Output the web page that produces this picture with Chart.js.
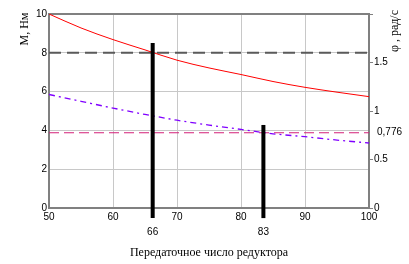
<!DOCTYPE html>
<html><head><meta charset="utf-8">
<script src="https://cdn.jsdelivr.net/npm/chart.js@4/dist/chart.umd.min.js"></script>
<style>html,body{margin:0;padding:0;background:#fff;}canvas{display:block;}</style>
</head><body>
<canvas id="c" width="409" height="264"></canvas>
<script>
// Gear ratio values (x)
const gearRatio = [50, 55, 60, 65, 70, 75, 80, 85, 90, 95, 100];
// Torque M, N·m (left axis)
const torqueM = [10.0, 9.28, 8.68, 8.15, 7.62, 7.22, 6.88, 6.52, 6.22, 5.97, 5.74];
// Angular speed φ, rad/s (right axis)
const speedPhi = [1.17, 1.10, 1.03, 0.965, 0.905, 0.855, 0.81, 0.765, 0.735, 0.70, 0.67];
// Reference levels
const torqueRef = 8;
const speedRef = 0.776;
const speedRefLabel = '0,776';
// Vertical markers
const markerX = [66.2, 83.5];
const markerTop = [8.5, 4.28];
const markerBottom = -0.52;
const markerLabels = ['66', '83'];
// Ticks / titles
const xTicks = [50, 60, 70, 80, 90, 100];
const xTitle = 'Передаточное число редуктора';
const yTitle = 'M, Нм';
const y1Title = 'φ , рад/с';

const pts = (xs, ys) => xs.map((x, i) => ({x, y: ys[i]}));

const datasets = [];
markerX.forEach((mx, i) => {
  datasets.push({
    data: [{x: mx, y: markerBottom}, {x: mx, y: markerTop[i]}],
    yAxisID: 'y', borderColor: '#000', borderWidth: 4, pointRadius: 0, clip: false, order: 0
  });
});
datasets.push({
  data: pts(gearRatio, torqueM), yAxisID: 'y', borderColor: '#ff0000', borderWidth: 1,
  pointRadius: 0, cubicInterpolationMode: 'monotone', order: 1
});
datasets.push({
  data: pts(gearRatio, speedPhi), yAxisID: 'y1', borderColor: '#8000ff', borderWidth: 1.3,
  borderDash: [6, 4, 2, 4], pointRadius: 0, cubicInterpolationMode: 'monotone', order: 2
});
datasets.push({
  data: [{x: 50, y: torqueRef}, {x: 100, y: torqueRef}], yAxisID: 'y', borderColor: '#5a5a5a',
  borderWidth: 2, borderDash: [12, 6], pointRadius: 0, order: 3
});
datasets.push({
  data: [{x: 50, y: speedRef}, {x: 100, y: speedRef}], yAxisID: 'y1', borderColor: '#d4207a',
  borderWidth: 1.2, borderDash: [10, 5], pointRadius: 0, order: 4
});

const tickFont = {family: "'Liberation Sans', Arial, sans-serif", size: 10};

const textPlugin = {
  id: 'texts',
  afterDraw(chart) {
    const ctx = chart.ctx;
    const xs = chart.scales.x, y1 = chart.scales.y1;
    ctx.save();
    ctx.fillStyle = '#000';
    ctx.font = "12px 'Liberation Serif', 'Times New Roman', serif";
    ctx.textAlign = 'center';
    ctx.textBaseline = 'middle';
    ctx.fillText(xTitle, 209, 253);
    ctx.save(); ctx.translate(25, 29); ctx.rotate(-Math.PI / 2); ctx.fillText(yTitle, 0, 0); ctx.restore();
    ctx.save(); ctx.translate(395, 31); ctx.rotate(-Math.PI / 2); ctx.fillText(y1Title, 0, 0); ctx.restore();
    ctx.font = "10px 'Liberation Sans', Arial, sans-serif";
    markerX.forEach((mx, i) => {
      ctx.fillText(markerLabels[i], xs.getPixelForValue(mx), 232);
    });
    ctx.textAlign = 'left';
    ctx.fillText(speedRefLabel, 377, y1.getPixelForValue(speedRef));
    ctx.restore();
  }
};

new Chart(document.getElementById('c'), {
  type: 'line',
  data: {datasets},
  options: {
    responsive: false, animation: false, devicePixelRatio: 1, locale: 'en-US',
    layout: {padding: {top: 14, left: 0, right: 0, bottom: 0}},
    plugins: {legend: {display: false}, tooltip: {enabled: false}},
    scales: {
      x: {
        type: 'linear', min: 50, max: 100,
        afterBuildTicks: s => { s.ticks = xTicks.map(v => ({value: v})); },
        ticks: {font: tickFont, color: '#000', padding: 3, maxRotation: 0},
        grid: {drawTicks: false, color: c => (c.tick && (c.tick.value === 50 || c.tick.value === 100)) ? 'rgba(0,0,0,0)' : '#c8c8c8'},
        border: {color: '#808080', width: 2},
        afterFit: s => { s.height = 56; }
      },
      y: {
        position: 'left', min: 0, max: 10,
        ticks: {stepSize: 2, font: tickFont, color: '#000', padding: 2},
        grid: {drawTicks: false,
          color: c => c.tick.value === 10 ? '#808080' : (c.tick.value === 0 ? 'rgba(0,0,0,0)' : '#c8c8c8'),
          lineWidth: c => c.tick.value === 10 ? 2 : 1},
        border: {color: '#808080', width: 2},
        afterFit: s => { s.width = 49; }
      },
      y1: {
        position: 'right', min: 0, max: 2,
        ticks: {stepSize: 0.5, font: tickFont, color: '#000', padding: 1,
          callback: v => v === 2 ? '' : String(v)},
        grid: {drawOnChartArea: false, drawTicks: true, tickLength: 4, color: '#808080'},
        border: {color: '#808080', width: 2},
        afterFit: s => { s.width = 40; }
      }
    }
  },
  plugins: [textPlugin]
});
</script>
</body></html>
